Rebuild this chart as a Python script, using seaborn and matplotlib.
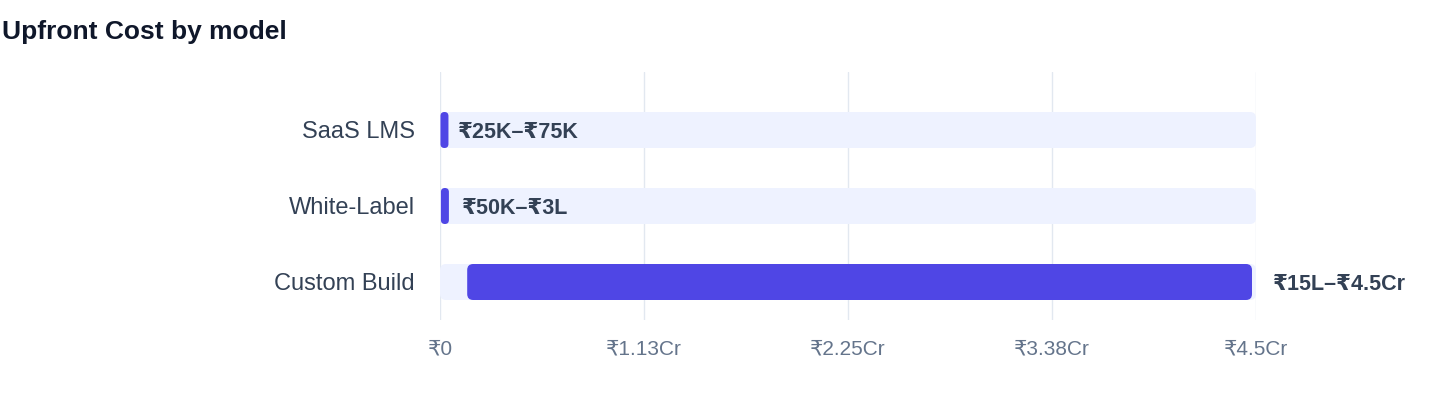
import matplotlib
matplotlib.use("Agg")
import matplotlib.pyplot as plt
import seaborn as sns
import pandas as pd
from matplotlib.patches import FancyBboxPatch

# ---- data (values in crore rupees) ----
models = ["SaaS LMS", "White-Label", "Custom Build"]
low_cr = [0.0025, 0.005, 0.15]
high_cr = [0.0075, 0.03, 4.5]
range_labels = ["₹25K–₹75K", "₹50K–₹3L", "₹15L–₹4.5Cr"]
tick_values = [0, 1.125, 2.25, 3.375, 4.5]
tick_labels = ["₹0", "₹1.13Cr", "₹2.25Cr", "₹3.38Cr", "₹4.5Cr"]
axis_max = 4.5

sns.set_theme(style="white")
FONT = ["Liberation Sans", "DejaVu Sans"]
plt.rcParams["font.family"] = FONT

BAR = "#4F46E5"
TRACK = "#EEF2FF"
GRID = "#E2E8F0"

df = pd.DataFrame({"model": models, "low": low_cr, "high": high_cr,
                   "track": [axis_max] * len(models)})

fig = plt.figure(figsize=(14.4, 4.08), dpi=100)
ax = fig.add_axes([440 / 1440, 1 - 320 / 408, 816 / 1440, 248 / 408])

bar_h = 36 / 76
sns.barplot(data=df, x="track", y="model", order=models, orient="h",
            color=TRACK, width=bar_h, ax=ax, saturation=1)
n_track = len(ax.patches)
sns.barplot(data=df, x="high", y="model", order=models, orient="h",
            color=BAR, width=bar_h, ax=ax, saturation=1)

ax.set_xlim(0, axis_max)
ax.set_ylim(2.5, -58 / 76)

# pixel -> data conversions for rounding
px_x = axis_max / 816
px_y = 1 / 76
min_w = 8 * px_x

patches = list(ax.patches)
for i, p in enumerate(patches):
    x0, y0, w, h = p.get_x(), p.get_y(), p.get_width(), p.get_height()
    fc = p.get_facecolor()
    if i >= n_track:
        k = i - n_track
        x0 = low_cr[k]
        w = max(high_cr[k] - low_cr[k] - 4 * px_x, min_w)
    p.remove()
    r = min(6 * px_x, w / 2)
    aspect = px_y / px_x
    fb = FancyBboxPatch((x0, y0), w, h,
                        boxstyle=f"round,pad=0,rounding_size={r}",
                        mutation_aspect=aspect, facecolor=fc,
                        edgecolor="none", linewidth=0, zorder=2 + (i >= n_track))
    ax.add_patch(fb)

# value labels
for k, lab in enumerate(range_labels):
    ax.annotate(lab, xy=(high_cr[k], k),
                xytext=(12, 0), textcoords="offset points",
                ha="left", va="center_baseline", fontsize=15.5, fontweight="bold",
                color="#334155", family=FONT, zorder=5)

ax.set_xticks(tick_values)
ax.set_xticklabels(tick_labels, fontsize=15, color="#64748B", family=FONT)
ax.set_yticks(range(len(models)))
ax.set_yticklabels(models, fontsize=17, color="#334155", family=FONT)
ax.tick_params(axis="x", length=0, pad=14)
ax.tick_params(axis="y", length=0, pad=18)
ax.set_xlabel("")
ax.set_ylabel("")
ax.set_axisbelow(True)
ax.grid(axis="x", color=GRID, linewidth=1)
ax.grid(axis="y", visible=False)
for s in ax.spines.values():
    s.set_visible(False)

fig.text(2 / 1440, 1 - 32 / 408, "Upfront Cost by model", ha="left", va="center",
         fontsize=19, fontweight="bold", color="#0F172A", family=FONT)

fig.savefig("out.png", dpi=100, facecolor="white")
